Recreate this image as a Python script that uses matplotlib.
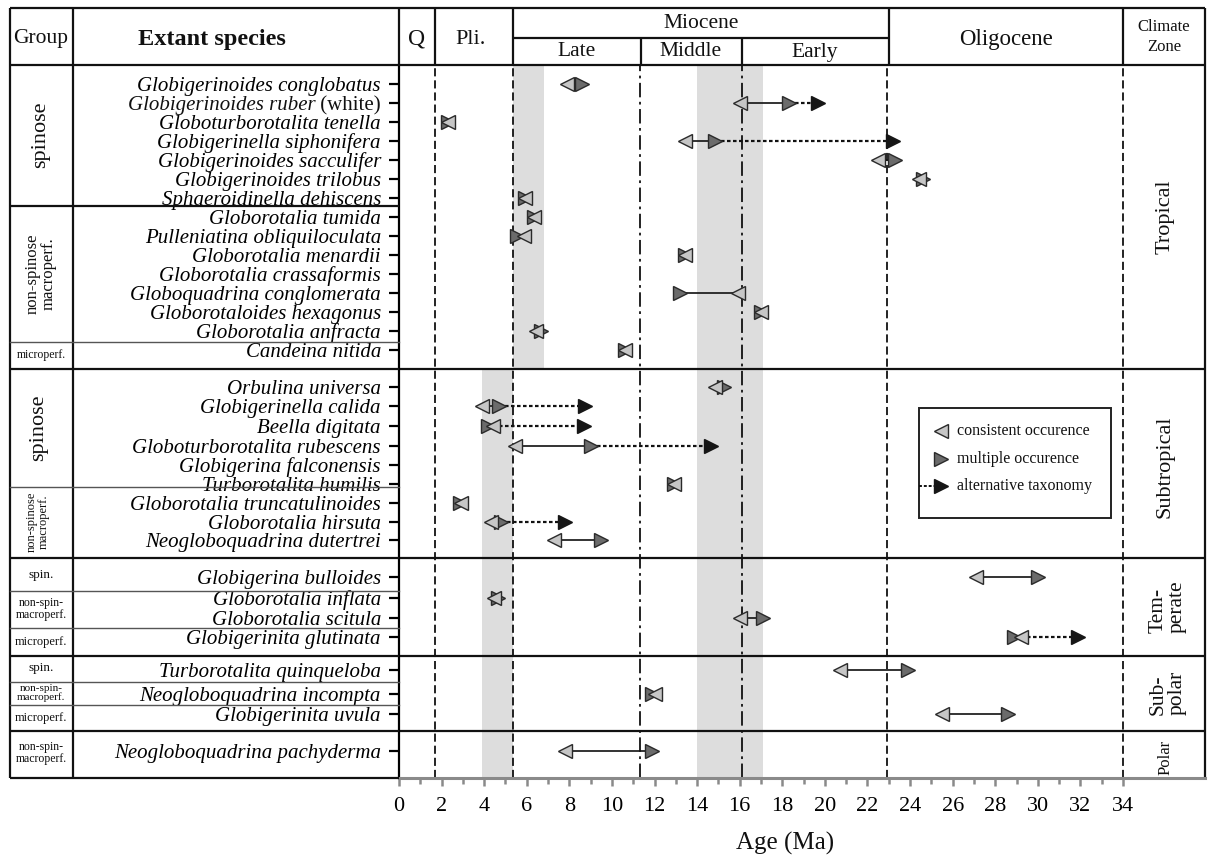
import matplotlib
matplotlib.use("Agg")
import matplotlib.pyplot as plt
from matplotlib.patches import Rectangle

plt.rcParams["font.family"] = ["Liberation Serif", "DejaVu Serif"]

# first appearance ages (Ma) of extant planktonic foraminifera
species = [
    "Globigerinoides conglobatus", "Globigerinoides ruber (white)",
    "Globoturborotalita tenella", "Globigerinella siphonifera",
    "Globigerinoides sacculifer", "Globigerinoides trilobus",
    "Sphaeroidinella dehiscens",
    "Globorotalia tumida", "Pulleniatina obliquiloculata", "Globorotalia menardii",
    "Globorotalia crassaformis", "Globoquadrina conglomerata",
    "Globorotaloides hexagonus", "Globorotalia anfracta",
    "Candeina nitida",
    "Orbulina universa", "Globigerinella calida", "Beella digitata",
    "Globoturborotalita rubescens", "Globigerina falconensis", "Turborotalita humilis",
    "Globorotalia truncatulinoides", "Globorotalia hirsuta", "Neogloboquadrina dutertrei",
    "Globigerina bulloides", "Globorotalia inflata", "Globorotalia scitula",
    "Globigerinita glutinata",
    "Turborotalita quinqueloba", "Neogloboquadrina incompta", "Globigerinita uvula",
    "Neogloboquadrina pachyderma",
]
consistent = [7.9, 16.0, 2.3, 13.45, 22.5, 24.4, 5.9,
              6.35, 5.85, 13.45, None, 15.9, 17.0, 6.45, 10.6,
              14.85, 3.9, 4.4, 5.45, None, 12.9,
              2.9, 4.3, 7.3,
              27.1, 4.45, 16.0, 29.2,
              20.7, 12.0, 25.5,
              7.8]
multiple = [8.6, 18.3, 2.3, 14.85, 23.3, 24.6, 5.9,
            6.35, 5.55, 13.45, None, 13.2, 17.0, 6.65, 10.6,
            15.25, 4.7, 4.2, 9.0, None, 12.9,
            2.85, 4.8, 9.5,
            30.0, 4.65, 17.1, 28.9,
            23.9, 11.9, 28.6,
            11.9]
alternative = [None, 19.7, None, 23.2, None, None, None,
               None, None, None, None, None, None, None, None,
               None, 8.75, 8.7, 14.65, None, None,
               None, 7.8, None,
               None, None, None, 31.9,
               None, None, None,
               None]

# chronostratigraphic boundaries and shaded intervals (Ma)
boundaries = [1.7, 5.35, 11.3, 16.1, 22.9, 34.0]
bands = [(5.35, 6.8, "tropical"), (3.9, 5.35, "rest"), (14.0, 17.1, "all")]
grey_ticks = {"Globigerinoides conglobatus", "Globigerinella siphonifera",
              "Sphaeroidinella dehiscens", "Globorotalia menardii",
              "Globorotaloides hexagonus"}

# layout, in figure pixels
W, H = 1208, 859
x0, x1, ytop, ybot = 399, 1123, 65, 778
row_y = [84, 103, 122, 141, 160, 179, 198,
         217, 236, 255, 274, 293, 312, 331,
         350,
         387, 406, 426, 446, 465, 484,
         503, 522, 540,
         577, 598, 618, 637,
         670, 694, 714,
         751]
major_lines = [369, 558, 656, 731]
minor_lines = [206, 342, 487, 591, 628, 682, 705]

c_light, c_dark, c_alt, c_edge = "#c6c6c6", "#6b6b6b", "#161616", "#2a2a2a"
ms = 10.5

fig = plt.figure(figsize=(W / 100, H / 100), dpi=100)
ax = fig.add_axes([x0 / W, 1 - ybot / H, (x1 - x0) / W, (ybot - ytop) / H])
ax.set_xlim(0, 34)
ax.set_ylim(ybot, ytop)
ax.patch.set_alpha(0)

# shaded intervals
for lo, hi, part in bands:
    if part == "tropical":
        y_a, y_b = ytop, major_lines[0]
    elif part == "rest":
        y_a, y_b = major_lines[0], ybot
    else:
        y_a, y_b = ytop, ybot
    ax.add_patch(Rectangle((lo, y_a), hi - lo, y_b - y_a, facecolor="#dddddd",
                           edgecolor="none", zorder=0))

for b in boundaries:
    ls = (0, (8, 2.5, 1.5, 2.5)) if b in (11.3, 16.1) else (0, (4.5, 2.2))
    ax.axvline(b, color="#111111", lw=1.3, ls=ls, zorder=1, clip_on=False)

for y in major_lines:
    ax.axhline(y, color="#111111", lw=1.6, zorder=1.5)

# occurrence ranges
for y, c, m, a in zip(row_y, consistent, multiple, alternative):
    if c is None:
        continue
    ax.plot([c, m], [y, y], color="#111111", lw=1.2, zorder=2)
    if a is not None:
        ax.plot([max(c, m), a], [y, y], color="#111111", lw=1.6,
                ls=(0, (1.6, 1.1)), zorder=2)
        ax.plot(a, y, marker=">", ms=ms, mfc=c_alt, mec=c_alt, mew=1, zorder=3)
    ax.plot(m, y, marker=">", ms=ms, mfc=c_dark, mec=c_edge, mew=1, zorder=3)
    ax.plot(c, y, marker="<", ms=ms, mfc=c_light, mec=c_edge, mew=1, zorder=4)

# species axis; the ruber label mixes italic and upright text, set below
labels = ["" if s.endswith("(white)") else s for s in species]
ax.set_yticks(row_y)
ax.set_yticklabels(labels, fontsize=15, fontstyle="italic")
ax.tick_params(axis="y", direction="out", length=7, width=1.6, pad=6)
for t, s in zip(ax.yaxis.get_major_ticks(), species):
    t.tick1line.set_color("#9a9a9a" if s in grey_ticks else "#111111")

# age axis
ax.set_xticks(range(0, 35, 2))
ax.set_xticks(range(0, 35, 1), minor=True)
ax.tick_params(axis="x", which="major", direction="out", length=6, width=1.8,
               color="#8a8a8a", labelsize=16, pad=8)
ax.tick_params(axis="x", which="minor", direction="out", length=4, width=1.8,
               color="#8a8a8a")
for side in ("top", "right"):
    ax.spines[side].set_visible(False)
ax.spines["left"].set_linewidth(1.6)
ax.spines["bottom"].set_color("#8a8a8a")
ax.spines["bottom"].set_linewidth(2.2)

# table frame, headers and legend drawn in pixel space
tab = fig.add_axes([0, 0, 1, 1])
tab.set_xlim(0, W)
tab.set_ylim(H, 0)
tab.axis("off")
tab.set_zorder(3)

k = dict(color="#111111", lw=1.6, solid_capstyle="butt")
tab.plot([10, 1205], [8, 8], **k)
tab.plot([10, 1205], [ytop, ytop], **k)
tab.plot([10, 10], [8, ybot], **k)
tab.plot([1205, 1205], [8, ybot], **k)
tab.plot([73, 73], [8, ybot], **k)
tab.plot([10, x0], [ybot, ybot], **k)
tab.plot([x1, 1205], [ybot, ybot], color="#8a8a8a", lw=2.2)
for xv in (x0, 435, 513, 889, x1):
    tab.plot([xv, xv], [8, ytop], **k)
tab.plot([513, 889], [38, 38], **k)
for xv in (641, 742):
    tab.plot([xv, xv], [38, ytop], **k)
for y in major_lines:
    tab.plot([10, x0], [y, y], **k)
    tab.plot([x1, 1205], [y, y], **k)
for y in minor_lines:
    if y == 206:
        tab.plot([10, x0], [y, y], **k)
    else:
        tab.plot([10, x0], [y, y], color="#555555", lw=1.0)

# "Globigerinoides ruber (white)": italic name followed by upright qualifier
i_ruber = [s.endswith("(white)") for s in species].index(True)
y_ruber = row_y[i_ruber]
x_lab = x0 - (7 + 6) * 100 / 72
white = tab.text(x_lab, y_ruber, " (white)", fontsize=15, ha="right",
                 va="center_baseline", color="#111111")
fig.canvas.draw()
w_white = white.get_window_extent(fig.canvas.get_renderer()).width
tab.text(x_lab - w_white, y_ruber, species[i_ruber].replace(" (white)", ""),
         fontsize=15, fontstyle="italic", ha="right", va="center_baseline",
         color="#111111")

hdr = dict(ha="center", va="center", color="#111111")
tab.text(41, 38, "Group", fontsize=15.5, **hdr)
tab.text(212, 39, "Extant species", fontsize=17.5, fontweight="bold", **hdr)
tab.text(417, 39, "Q", fontsize=17, **hdr)
tab.text(471, 39, "Pli.", fontsize=16, **hdr)
tab.text(701, 23, "Miocene", fontsize=15.5, **hdr)
tab.text(577, 52, "Late", fontsize=15.5, **hdr)
tab.text(691, 52, "Middle", fontsize=15.5, **hdr)
tab.text(815, 52, "Early", fontsize=15.5, **hdr)
tab.text(1006, 39, "Oligocene", fontsize=16.5, **hdr)
tab.text(1164, 37, "Climate\nZone", fontsize=12, linespacing=1.3, **hdr)

grp = [
    ("spinose", 41, 135, 16, 90),
    ("non-spinose\nmacroperf.", 41, 274, 12, 90),
    ("microperf.", 41, 355, 8.5, 0),
    ("spinose", 39, 428, 16, 90),
    ("non-spinose\nmacroperf.", 38, 522, 9, 90),
    ("spin.", 41, 575, 9.5, 0),
    ("non-spin-\nmacroperf.", 41, 609, 8.5, 0),
    ("microperf.", 41, 642, 9, 0),
    ("spin.", 41, 668, 9.5, 0),
    ("non-spin-\nmacroperf.", 41, 693, 8, 0),
    ("microperf.", 41, 718, 9, 0),
    ("non-spin-\nmacroperf.", 41, 753, 8.5, 0),
]
for txt, xg, yg, fs, rot in grp:
    tab.text(xg, yg, txt, fontsize=fs, rotation=rot, linespacing=1.0, **hdr)

zones = [
    ("Tropical", 1165, 217, 16, "center"),
    ("Subtropical", 1165, 467, 16, "center"),
    ("Tem-\nperate", 1168, 607, 15.5, "left"),
    ("Sub-\npolar", 1168, 693, 15.5, "left"),
    ("Polar", 1166, 757, 12, "center"),
]
for txt, xz, yz, fs, al in zones:
    tab.text(xz, yz, txt, fontsize=fs, rotation=90, linespacing=1.0,
             multialignment=al, **hdr)

tab.text(785, 843, "Age (Ma)", fontsize=18, **hdr)

# legend box
tab.add_patch(Rectangle((919, 408), 192, 110, facecolor="white",
                        edgecolor="#222222", lw=1.4))
tab.plot(941, 431, marker="<", ms=ms, mfc=c_light, mec=c_edge, mew=1)
tab.plot(941, 459, marker=">", ms=ms, mfc=c_dark, mec=c_edge, mew=1)
tab.plot([919, 937], [486, 486], color="#111111", lw=1.4, ls=(0, (1.5, 1)))
tab.plot(941, 486, marker=">", ms=ms, mfc=c_alt, mec=c_alt, mew=1)
for yl, txt in ((431, "consistent occurence"), (459, "multiple occurence"),
                (486, "alternative taxonomy")):
    tab.text(957, yl, txt, fontsize=11.5, ha="left", va="center", color="#111111")

fig.savefig("out.png", dpi=100)
